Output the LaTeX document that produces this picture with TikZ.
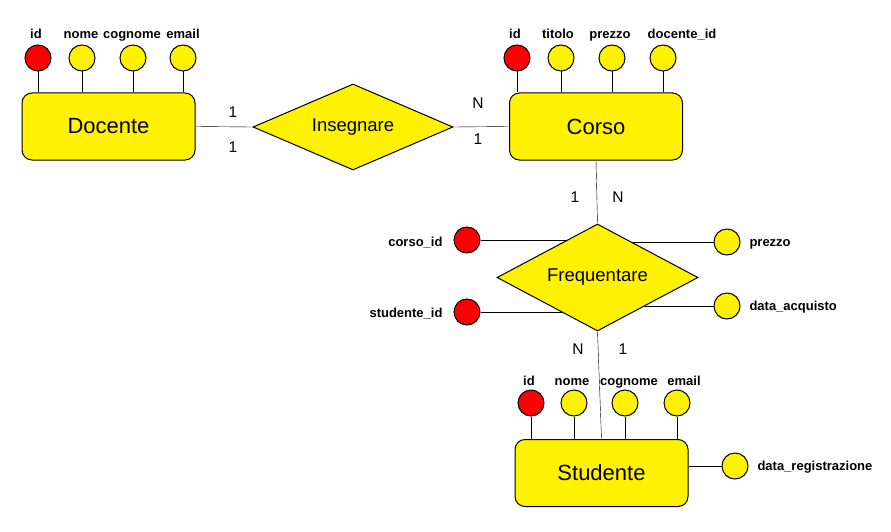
\documentclass[tikz,border=0pt]{standalone}
\usepackage{fontspec}
\setmainfont{Liberation Sans}
\usetikzlibrary{shapes.geometric,backgrounds}

\tikzset{
  entity/.style={draw, fill=yellow, rounded corners=10pt, minimum width=173pt, minimum height=67pt, inner sep=0pt, font=\fontsize{22}{26}\selectfont},
  relation/.style={draw, fill=yellow, diamond, aspect=2.3, inner sep=0pt, font=\fontsize{18.5}{22}\selectfont},
  attr/.style={draw, circle, fill=yellow, minimum size=26pt, inner sep=0pt},
  keyattr/.style={attr, fill=red},
  attrtext/.style={font=\bfseries\fontsize{13}{15}\selectfont, inner sep=0pt},
  card/.style={font=\fontsize{15.5}{18}\selectfont, inner sep=0pt},
}

\begin{document}
\begin{tikzpicture}[x=1pt, y=-1pt, line width=1pt]
      \useasboundingbox (0,0) rectangle (891,532);
      % entities and relations
      \node[entity] (docente) at (108.5,126.5) {Docente};
      \node[entity] (corso) at (596,126.5) {Corso};
      \node[entity] (studente) at (601.5,473) {Studente};
      \node[relation, minimum width=200pt, minimum height=86pt] (insegnare) at (353,127) {Insegnare};
      \node[relation, minimum width=201pt, minimum height=107pt] (frequentare) at (597.5,277.5) {Frequentare};

      % attributes of Docente
      \node[keyattr] (doc-id) at (38,58) {};
      \node[attr] (doc-nome) at (82,58) {};
      \node[attr] (doc-cognome) at (133,58) {};
      \node[attr] (doc-email) at (183,58) {};
      \node[attrtext, anchor=base] (doc-id-t) at (36,39) {id};
      \node[attrtext, anchor=base] (doc-nome-t) at (81,39) {nome};
      \node[attrtext, anchor=base] (doc-cognome-t) at (132,39) {cognome};
      \node[attrtext, anchor=base] (doc-email-t) at (183,39) {email};

      % attributes of Corso
      \node[keyattr] (cor-id) at (517,58) {};
      \node[attr] (cor-titolo) at (561,58) {};
      \node[attr] (cor-prezzo) at (612,58) {};
      \node[attr] (cor-docid) at (663,58) {};
      \node[attrtext, anchor=base] (cor-id-t) at (515,39) {id};
      \node[attrtext, anchor=base] (cor-titolo-t) at (558,39) {titolo};
      \node[attrtext, anchor=base] (cor-prezzo-t) at (610,39) {prezzo};
      \node[attrtext, anchor=base] (cor-docid-t) at (682,39) {docente\_id};

      % attributes of Studente
      \node[keyattr] (stu-id) at (531,403) {};
      \node[attr] (stu-nome) at (574,403) {};
      \node[attr] (stu-cognome) at (625,403) {};
      \node[attr] (stu-email) at (677,403) {};
      \node[attr] (stu-datareg) at (735,466) {};
      \node[attrtext, anchor=base] (stu-id-t) at (529,385) {id};
      \node[attrtext, anchor=base] (stu-nome-t) at (572,385) {nome};
      \node[attrtext, anchor=base] (stu-cognome-t) at (629,385) {cognome};
      \node[attrtext, anchor=base] (stu-email-t) at (684,385) {email};
      \node[attrtext, anchor=base west] (stu-datareg-t) at (757,470) {data\_registrazione};

      % attributes of Frequentare
      \node[keyattr] (fr-corsoid) at (467,240) {};
      \node[keyattr] (fr-studid) at (467,312) {};
      \node[attr] (fr-prezzo) at (727,242) {};
      \node[attr] (fr-data) at (727,306) {};
      \node[attrtext, anchor=base east] (fr-corsoid-t) at (443,246) {corso\_id};
      \node[attrtext, anchor=base east] (fr-studid-t) at (443,317) {studente\_id};
      \node[attrtext, anchor=base west] (fr-prezzo-t) at (749,246) {prezzo};
      \node[attrtext, anchor=base west] (fr-data-t) at (749,310) {data\_acquisto};

      % cardinalities
      \node[card] (c1) at (233,112) {1};
      \node[card] (c2) at (233,147) {1};
      \node[card] (c3) at (478,103) {N};
      \node[card] (c4) at (478,139) {1};
      \node[card] (c5) at (575,197) {1};
      \node[card] (c6) at (618,197) {N};
      \node[card] (c7) at (578,349) {N};
      \node[card] (c8) at (623,349) {1};

      \begin{pgfonlayer}{background}
      \draw (docente.east) -- (insegnare.west);
      \draw (insegnare.east) -- (corso.west);
      \draw (corso.south) -- (frequentare.north);
      \draw (frequentare.south) -- (studente.north);
      \draw (doc-id) -- (doc-id |- docente.north);
      \draw (doc-nome) -- (doc-nome |- docente.north);
      \draw (doc-cognome) -- (doc-cognome |- docente.north);
      \draw (doc-email) -- (doc-email |- docente.north);
      \draw (cor-id) -- (cor-id |- corso.north);
      \draw (cor-titolo) -- (cor-titolo |- corso.north);
      \draw (cor-prezzo) -- (cor-prezzo |- corso.north);
      \draw (cor-docid) -- (cor-docid |- corso.north);
      \draw (stu-id) -- (stu-id |- studente.north);
      \draw (stu-nome) -- (stu-nome |- studente.north);
      \draw (stu-cognome) -- (stu-cognome |- studente.north);
      \draw (stu-email) -- (stu-email |- studente.north);
      \draw (stu-datareg) -- (stu-datareg -| studente.east);
      \draw (fr-corsoid) -- (fr-corsoid -| frequentare.center);
      \draw (fr-studid) -- (fr-studid -| frequentare.center);
      \draw (fr-prezzo) -- (fr-prezzo -| frequentare.center);
      \draw (fr-data) -- (fr-data -| frequentare.center);
      \end{pgfonlayer}
  \end{tikzpicture}
\end{document}
